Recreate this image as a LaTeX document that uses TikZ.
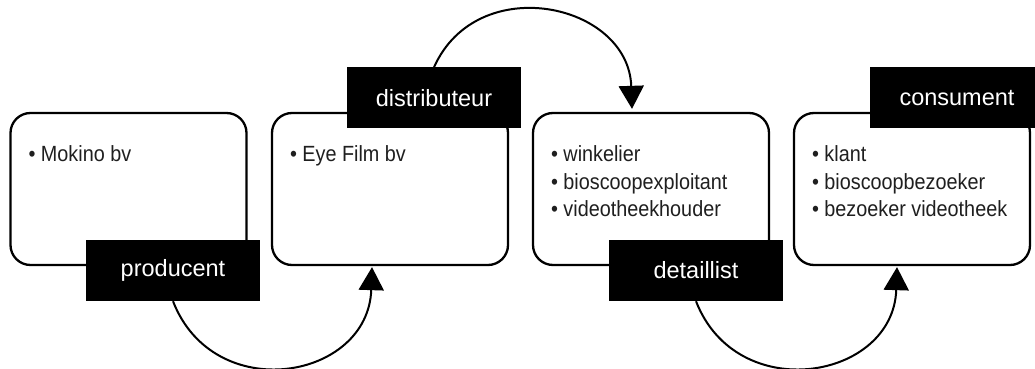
\documentclass[tikz,border=0pt]{standalone}
\usepackage{fontspec}
\setmainfont{Liberation Sans}
\newfontfamily\itemfont[FakeStretch=0.9]{Liberation Sans}
\usetikzlibrary{arrows.meta,calc}
\tikzset{
  box/.style={draw=black, line width=2.3pt, rounded corners=20pt, minimum width=236pt, minimum height=152pt, inner sep=0pt, fill=white},
  tag/.style={fill=black, text=white, minimum width=174pt, minimum height=61pt, inner sep=0pt, font=\fontsize{23.5}{28}\selectfont},
  items/.style={anchor=north west, align=left, inner sep=0pt, font=\itemfont\fontsize{22}{27.5}\selectfont, text=black!88},
  flow/.style={line width=2pt, -{Triangle[width=25pt,length=23pt]}},
}
\begin{document}
\begin{tikzpicture}[x=1pt,y=1pt]
\useasboundingbox (0,0) rectangle (1035,369);
\clip (0,0) rectangle (1035,369);
\fill[white] (0,0) rectangle (1035,369);
% boxes
\node[box] (b1) at (128.5,180) {};
\node[box] (b2) at (390,180) {};
\node[box] (b3) at (651,180) {};
\node[box] (b4) at (912,180) {};
% items
\node[items] (t1) at ($(b1.north west)+(19,-34)$) {\vphantom{k}• Mokino bv};
\node[items] (t2) at ($(b2.north west)+(19,-34)$) {\vphantom{k}• Eye Film bv};
\node[items] (t3) at ($(b3.north west)+(19,-34)$) {\vphantom{k}• winkelier\\• bioscoopexploitant\\• videotheekhouder};
\node[items] (t4) at ($(b4.north west)+(19,-34)$) {\vphantom{k}• klant\\• bioscoopbezoeker\\• bezoeker videotheek};
% tags
\node[tag] (l1) at (173,98.5) {producent};
\node[tag] (l2) at (434,271) {distributeur};
\node[tag] (l3) at (696,98.5) {detaillist};
\node[tag] (l4) at (957,271) {consument};
% arrow ends
\coordinate (e1) at ($(b2.south)+(-18,-1)$);
\coordinate (e2) at ($(b3.north)+(-19,3)$);
\coordinate (e3) at ($(b4.south)+(-15,-1)$);
% arrows
\draw[flow] (l1.south) .. controls +(-68.8:113) and +(-91.9:113) .. (e1);
\draw[flow] (l2.north) .. controls +(66:106) and +(91.9:106) .. (e2);
\draw[flow] (l3.south) .. controls +(-68.8:113) and +(-91.9:113) .. (e3);
\end{tikzpicture}
\end{document}
